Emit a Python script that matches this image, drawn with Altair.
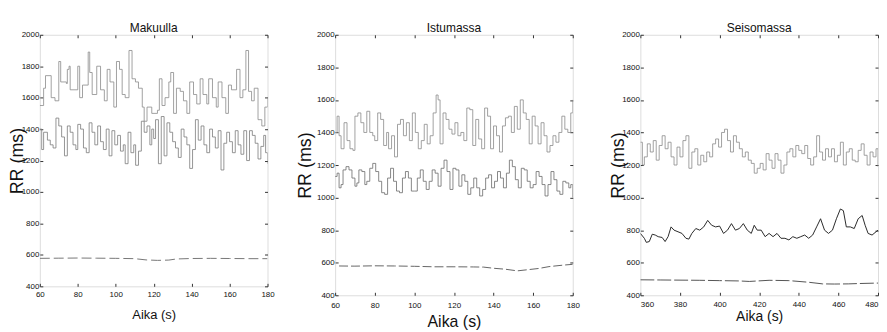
import altair as alt
import pandas as pd

FONT = "Liberation Sans, Arial, sans-serif"

# ---------------- Makuulla (lying) ----------------
mak_top_t = [60, 62, 63, 66, 68, 70, 71, 74, 74.5, 75.4, 76, 80, 81, 82.5, 85.5, 86.3, 87.6, 90, 92, 94,
             95.5, 97, 99, 100.4, 102, 103.4, 105, 107, 108.6, 110.4, 112, 114, 115, 116.5, 119, 122, 123,
             124.4, 126, 128, 129, 130.5, 132, 134, 135.7, 137.5, 139, 141, 142.7, 144.5, 146, 148, 149,
             151, 153, 154, 156, 158, 159.4, 161, 163.7, 165.5, 167, 168.6, 170, 171.6, 173, 175, 177,
             178.6, 180]
mak_top_v = [1550, 1660, 1740, 1600, 1580, 1830, 1700, 1690, 1780, 1800, 1650, 1800, 1600, 1680, 1890, 1760,
             1620, 1800, 1650, 1580, 1780, 1700, 1540, 1830, 1780, 1620, 1600, 1900, 1720, 1700, 1660, 1540,
             1450, 1540, 1500, 1520, 1720, 1550, 1600, 1700, 1760, 1500, 1660, 1640, 1580, 1500, 1700, 1620,
             1560, 1720, 1620, 1560, 1720, 1600, 1540, 1700, 1600, 1500, 1680, 1650, 1780, 1600, 1650, 1900,
             1640, 1580, 1660, 1460, 1420, 1540, 1600]

mak_mid_t = [60, 61, 62, 64, 65.5, 67, 68.5, 70, 71.5, 73, 74.5, 76, 77.5, 79, 80, 81.5, 83, 84.5, 86, 87.5,
             89, 90.5, 92, 93.5, 95, 96.5, 98, 99.5, 101, 102.5, 104, 105, 106.5, 108, 109.5, 110.5, 112,
             113.5, 115, 116.5, 118, 119, 120, 121, 122.5, 124, 125.5, 127, 128.5, 130, 131.5, 133, 134.5,
             136, 137.5, 139, 140.5, 142, 143.5, 145, 146.5, 148, 149.5, 151, 152.5, 154, 155.5, 157,
             158.5, 160, 161.5, 163, 164.5, 166, 167.5, 169, 170.5, 172, 173.5, 175, 176.5, 178, 179, 180]
mak_mid_v = [1400, 1270, 1380, 1330, 1300, 1280, 1470, 1420, 1350, 1230, 1420, 1380, 1300, 1270, 1430, 1400,
             1280, 1250, 1440, 1380, 1300, 1420, 1320, 1270, 1400, 1230, 1390, 1300, 1360, 1260, 1300, 1180,
             1380, 1250, 1300, 1170, 1260, 1450, 1380, 1420, 1300, 1400, 1340, 1460, 1180, 1480, 1230, 1440,
             1380, 1320, 1280, 1220, 1400, 1350, 1300, 1150, 1270, 1460, 1330, 1420, 1300, 1250, 1400, 1350,
             1280, 1390, 1140, 1310, 1380, 1320, 1250, 1390, 1300, 1240, 1390, 1200, 1390, 1360, 1310, 1210,
             1290, 1360, 1250, 1180]

mak_low_t = [60, 70, 80, 90, 100, 110, 116, 122, 128, 132, 140, 150, 160, 170, 180]
mak_low_v = [578, 579, 580, 579, 578, 576, 568, 565, 567, 574, 577, 578, 577, 576, 576]

# ---------------- Istumassa (sitting) ----------------
ist_top_t = [60, 61, 62, 63, 64.5, 66, 67.5, 69, 70, 71.5, 73, 74.5, 76, 77.5, 79, 80, 81.5, 83, 84.5, 86,
             87, 88.5, 90, 91.5, 93, 94.5, 96, 97.5, 99, 100.5, 102, 103.5, 105, 106.5, 108, 109.5, 111,
             112, 113, 114.5, 116, 117.5, 119, 120.5, 122, 123.5, 125, 126.5, 128, 129.5, 131, 132.5, 134,
             135.5, 137, 138.5, 140, 141.5, 143, 144.5, 146, 147.5, 149, 150.5, 152, 153.5, 155, 156.5,
             158, 159.5, 161, 162.5, 164, 165.5, 167, 168.5, 170, 171.5, 173, 174.5, 176, 177.5, 179, 180]
ist_top_v = [1400, 1500, 1380, 1300, 1460, 1350, 1300, 1290, 1500, 1520, 1460, 1400, 1530, 1400, 1380, 1350,
             1520, 1480, 1320, 1400, 1300, 1380, 1250, 1450, 1480, 1380, 1460, 1350, 1520, 1400, 1300, 1350,
             1450, 1330, 1380, 1520, 1630, 1600, 1330, 1520, 1480, 1420, 1390, 1460, 1380, 1400, 1350, 1550,
             1540, 1320, 1480, 1360, 1300, 1550, 1500, 1300, 1440, 1380, 1280, 1440, 1490, 1500, 1400, 1560,
             1420, 1600, 1520, 1480, 1330, 1500, 1440, 1330, 1460, 1380, 1280, 1320, 1380, 1340, 1400, 1500,
             1420, 1400, 1520, 1600]

ist_mid_t = [60, 61, 62, 63, 64, 65.5, 67, 68.5, 70, 71, 72, 73.5, 75, 76, 77.5, 79, 80.5, 82, 83.5, 85,
             86.5, 88, 89.5, 91, 92.5, 94, 95.5, 97, 98.5, 100, 101.5, 103, 104.5, 106, 107.5, 109, 110.5,
             112, 113.5, 115, 116.5, 118, 119.5, 121, 122.5, 124, 125.5, 127, 128.5, 130, 131.5, 133,
             134.5, 136, 137.5, 139, 140.5, 142, 143.5, 145, 146.5, 148, 149.5, 151, 152.5, 154, 155.5,
             157, 158.5, 160, 161.5, 163, 164.5, 166, 167.5, 169, 170.5, 172, 173.5, 175, 176.5, 178, 179, 180]
ist_mid_v = [1130, 1150, 1060, 1080, 1170, 1190, 1170, 1120, 1070, 1090, 1170, 1160, 1080, 1100, 1180, 1210,
             1160, 1100, 1030, 1020, 1120, 1180, 1100, 1040, 1030, 1120, 1160, 1120, 1040, 1040, 1120, 1170,
             1100, 1050, 1100, 1170, 1150, 1070, 1180, 1230, 1160, 1050, 1180, 1170, 1070, 1140, 1100, 1020,
             1060, 1120, 1060, 1010, 1050, 1120, 1140, 1060, 1100, 1160, 1120, 1060, 1150, 1230, 1190, 1110,
             1060, 1180, 1170, 1100, 1060, 1080, 1160, 1130, 1080, 1010, 1080, 1160, 1110, 1040, 1020, 1100,
             1090, 1060, 1080, 1000]

ist_low_t = [62, 70, 80, 90, 100, 110, 120, 130, 135, 140, 146, 152, 158, 163, 168, 175, 180]
ist_low_v = [580, 579, 581, 580, 578, 575, 575, 574, 573, 566, 560, 550, 558, 565, 576, 585, 590]

# ---------------- Seisomassa (standing) ----------------
sei_top_t = [360, 361, 362, 363.5, 365, 366.5, 368, 369.5, 371, 372.5, 374, 375.5, 377, 378.5, 380, 381.5,
             383, 384.5, 386, 387.5, 389, 390.5, 392, 393.5, 395, 396.5, 398, 399.5, 401, 402.5, 404,
             405.5, 407, 408.5, 410, 411.5, 413, 414.5, 416, 417.5, 419, 420.5, 422, 423.5, 425, 426.5,
             428, 429.5, 431, 432.5, 434, 435.5, 437, 438.5, 440, 441.5, 443, 444.5, 446, 447.5, 449,
             450.5, 452, 453.5, 455, 456.5, 458, 459.5, 461, 462.5, 464, 465.5, 467, 468.5, 470, 471.5,
             473, 474.5, 476, 477.5, 479, 480]
sei_top_v = [1340, 1200, 1250, 1330, 1280, 1350, 1230, 1320, 1380, 1300, 1340, 1250, 1200, 1310, 1250, 1350,
             1380, 1180, 1280, 1300, 1200, 1260, 1220, 1280, 1250, 1330, 1360, 1310, 1400, 1420, 1350, 1280,
             1380, 1340, 1300, 1250, 1280, 1230, 1210, 1150, 1180, 1210, 1170, 1270, 1230, 1180, 1270, 1230,
             1150, 1200, 1280, 1300, 1250, 1320, 1290, 1270, 1320, 1240, 1200, 1250, 1380, 1280, 1230, 1300,
             1250, 1300, 1220, 1260, 1340, 1200, 1280, 1300, 1230, 1220, 1290, 1330, 1260, 1200, 1280, 1250,
             1300, 1190]

sei_mid_t = [360, 362, 363, 364.5, 366, 367.5, 369, 371, 372.5, 374, 375.5, 377, 379, 381, 383, 384.5, 386,
             388, 390, 392, 394, 396, 398, 400, 402, 404, 406, 408, 410, 412, 414, 416, 417.5, 419, 421,
             423, 425, 427, 429, 431, 433, 435, 437, 439, 441, 443, 445, 447, 449, 451, 453, 455, 457, 459,
             461, 462.5, 464, 466, 468, 470, 472, 473.5, 475, 477, 479, 480]
sei_mid_v = [780, 750, 725, 730, 775, 770, 760, 755, 730, 760, 820, 800, 790, 780, 750, 745, 780, 810, 800,
             820, 860, 830, 820, 825, 780, 800, 840, 800, 810, 840, 800, 780, 830, 800, 800, 760, 780, 760,
             780, 750, 750, 740, 760, 750, 760, 770, 750, 770, 820, 870, 800, 780, 800, 870, 930, 920, 820,
             820, 810, 870, 890, 830, 780, 770, 790, 800]

sei_low_t = [360, 370, 380, 390, 400, 410, 415, 425, 435, 445, 452, 458, 465, 470, 480]
sei_low_v = [495, 494, 493, 492, 490, 488, 485, 492, 490, 480, 470, 469, 470, 472, 475]

Y_TICKS = [400, 600, 800, 1000, 1200, 1400, 1600, 1800, 2000]


def frame(t, v):
    return pd.DataFrame({"t": t, "v": v})


def panel(title, series, xdom, xticks, width, height,
          ytitle_x, xtitle_y, xtitle_size, xlab_pad, flush=False):
    xs = alt.Scale(domain=xdom, nice=False, zero=False)
    ys = alt.Scale(domain=[400, 2000], nice=False, zero=False)
    x_axis = alt.Axis(values=xticks, format="d", tickSize=3, offset=-3, domain=False,
                      tickColor="#333", labelColor="#111", labelFont=FONT, labelFontSize=8,
                      labelPadding=xlab_pad, labelFlush=flush, grid=False,
                      title="Aika (s)", titleFont=FONT, titleFontSize=xtitle_size,
                      titleFontWeight="normal", titleColor="#111", titleY=xtitle_y,
                      titleBaseline="alphabetic")
    y_axis = alt.Axis(values=Y_TICKS, format="d", tickSize=3, offset=-3, domain=False,
                      tickColor="#333", labelColor="#111", labelFont=FONT, labelFontSize=8,
                      labelPadding=1, grid=False,
                      title="RR (ms)", titleFont=FONT, titleFontSize=18,
                      titleFontWeight="normal", titleColor="#111", titleX=ytitle_x,
                      titleY=height / 2, titleAngle=270, titleAlign="center",
                      titleBaseline="middle")
    layers = []
    for (t, v, interp, color, sw, dash) in series:
        mk = dict(interpolate=interp, color=color, strokeWidth=sw, clip=True)
        if dash:
            mk["strokeDash"] = dash
        layers.append(
            alt.Chart(frame(t, v)).mark_line(**mk).encode(
                x=alt.X("t:Q", scale=xs, axis=x_axis),
                y=alt.Y("v:Q", scale=ys, axis=y_axis),
            )
        )
    inner = alt.layer(*layers)
    t0, v0 = series[0][0], series[0][1]
    ticks = alt.Chart(frame(t0, v0)).mark_line(opacity=0).encode(
        x=alt.X("t:Q", scale=xs, axis=alt.Axis(orient="top", values=xticks, labels=False,
                                               tickSize=3, offset=-3, domain=False,
                                               tickColor="#333", title=None, grid=False)),
        y=alt.Y("v:Q", scale=ys, axis=alt.Axis(orient="right", values=Y_TICKS, labels=False,
                                               tickSize=3, offset=-3, domain=False,
                                               tickColor="#333", title=None, grid=False)),
    )
    return alt.layer(inner, ticks).resolve_axis(x="independent", y="independent").properties(
        width=width, height=height,
        title=alt.TitleParams(title, font=FONT, fontSize=12, fontWeight="normal",
                              color="#111", offset=-4, anchor="middle"),
    )


p1 = panel("Makuulla", [
    (mak_top_t, mak_top_v, "step-after", "#8a8a8a", 0.8, None),
    (mak_mid_t, mak_mid_v, "step-after", "#7a7a7a", 0.8, None),
    (mak_low_t, mak_low_v, "linear", "#777777", 1.0, [10, 4]),
], [60, 180], [60, 80, 100, 120, 140, 160, 180], 229, 253, -25.5, 35, 13, 4)

p2 = panel("Istumassa", [
    (ist_top_t, ist_top_v, "step-after", "#8a8a8a", 0.8, None),
    (ist_mid_t, ist_mid_v, "step-after", "#6a6a6a", 0.8, None),
    (ist_low_t, ist_low_v, "linear", "#666666", 1.0, [9, 3]),
], [60, 180], [60, 80, 100, 120, 140, 160, 180], 239, 262, -32.5, 34, 16, 6)

p3 = panel("Seisomassa", [
    (sei_top_t, sei_top_v, "step-after", "#8a8a8a", 0.8, None),
    (sei_mid_t, sei_mid_v, "linear", "#2a2a2a", 1.0, None),
    (sei_low_t, sei_low_v, "linear", "#555555", 1.0, [14, 3]),
], [360, 480], [360, 380, 400, 420, 440, 460, 480], 239, 262, -24.5, 28, 14, 5, flush=True)

chart = alt.hconcat(p1, p2, p3, spacing=68, bounds="flush").properties(
    padding={"left": 0, "top": 12, "right": 0, "bottom": 0}
).configure_view(stroke="#333", strokeWidth=1).configure(background="white")

chart.save("out.html", embed_options={"renderer": "svg", "actions": False})
